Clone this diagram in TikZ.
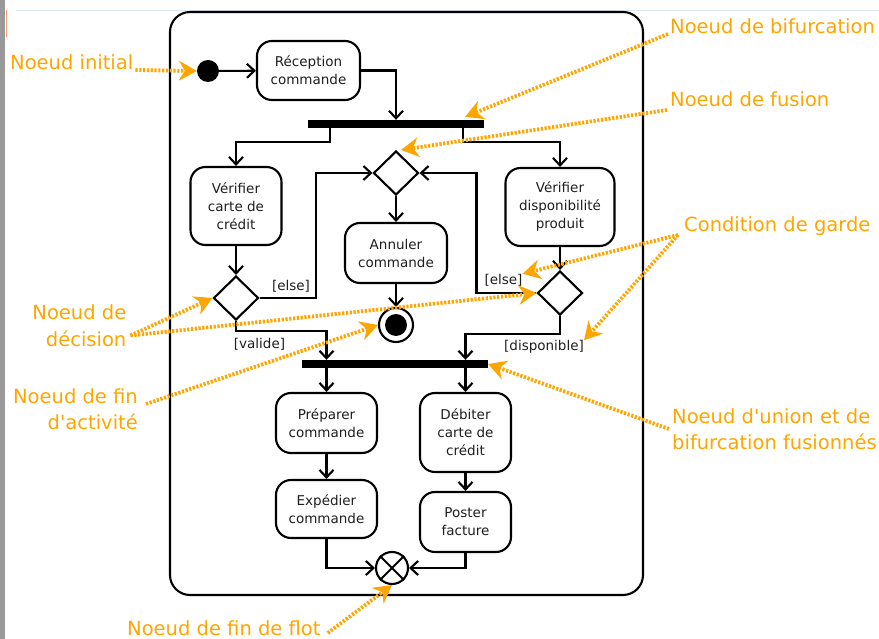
\documentclass[tikz,border=0pt]{standalone}
\usepackage{fontspec}
\setmainfont{DejaVu Sans}[Ligatures=TeXOff]
\usetikzlibrary{arrows.meta,shapes.geometric,calc}
\definecolor{anncol}{RGB}{255,165,0}
\definecolor{txtcol}{RGB}{30,30,30}
\definecolor{stripcol}{RGB}{153,153,153}
\definecolor{toplinecol}{RGB}{220,230,240}
\definecolor{markcol}{RGB}{240,160,120}
\newcommand{\boxfont}{\fontsize{13.5}{18}\selectfont}
\newcommand{\annfont}{\fontsize{19.5}{26.5}\selectfont}
\tikzset{
  actbox/.style={draw, line width=2.1pt, rounded corners=15pt, align=center,
    font=\boxfont, text=txtcol, inner sep=0pt},
  bar/.style={fill=black, inner sep=0pt, minimum height=8pt},
  decision/.style={diamond, draw, line width=2.1pt, inner sep=0pt,
    minimum width=45pt, minimum height=44pt},
  flow/.style={line width=2.1pt, -{Straight Barb[length=7.5pt,width=14pt]}},
  guard/.style={font=\boxfont, text=txtcol, inner sep=0pt},
  note/.style={draw=anncol, line width=3.8pt, dash pattern=on 2.2pt off 1.6pt,
    -{Stealth[length=18pt,width=20pt,inset=6pt,line width=0pt,fill=anncol]}},
  notetext/.style={text=anncol, font=\annfont, inner sep=0pt},
}
\begin{document}
\begin{tikzpicture}[x=1pt,y=-1pt]
\useasboundingbox (0,0) rectangle (879,639);
% window decorations
\fill[stripcol] (0,0) rectangle (5,639);
\draw[toplinecol, line width=1pt] (16,10.5) -- (879,10.5);
\draw[markcol, line width=1.5pt] (6.5,10) -- (6.5,37);
% frame
\draw[line width=2.1pt, rounded corners=20pt] (170,12) rectangle (643,595);

% nodes
\node[circle, fill=black, inner sep=0pt, minimum size=22pt] (init) at (208,71) {};
\node[actbox, minimum width=103pt, minimum height=59pt] (rec) at (308.5,70.5) {Réception\\commande};
\node[bar, minimum width=176pt] (fork1) at (396,124) {};
\node[actbox, minimum width=91pt, minimum height=78pt] (vcc) at (236,206) {Vérifier\\carte de\\crédit};
\node[actbox, minimum width=109pt, minimum height=78pt] (vdp) at (560,207) {Vérifier\\disponibilité\\produit};
\node[decision] (merge) at (396,173) {};
\node[actbox, minimum width=102pt, minimum height=60pt] (annul) at (396,253) {Annuler\\commande};
\node[circle, draw, line width=2.1pt, inner sep=0pt, minimum size=34pt] (fin) at (396,325) {};
\fill (fin.center) circle (11);
\node[decision] (dec1) at (236,298) {};
\node[decision] (dec2) at (560,293) {};
\node[bar, minimum width=186pt] (fork2) at (395,364) {};
\node[actbox, minimum width=101pt, minimum height=60pt] (prep) at (326.5,423) {Préparer\\commande};
\node[actbox, minimum width=101pt, minimum height=58pt] (exped) at (326.5,509) {Expédier\\commande};
\node[actbox, minimum width=91pt, minimum height=79pt] (deb) at (465.5,432.5) {Débiter\\carte de\\crédit};
\node[actbox, minimum width=91pt, minimum height=60pt] (post) at (465.5,522) {Poster\\facture};
\node[circle, draw, line width=2.1pt, inner sep=0pt, minimum size=32pt] (ff) at (392,568) {};
\draw[line width=2.1pt] (ff.north west) -- (ff.south east) (ff.north east) -- (ff.south west);

% guard labels
\node[guard] (elseL) at (291,286) {[else]};
\node[guard] (valide) at (259.5,344) {[valide]};
\node[guard] (elseR) at (503.5,280) {[else]};
\node[guard] (disp) at (544,347) {[disponible]};

% flows
\draw[flow] (init) -- (rec);
\draw[flow] (rec.east) -| (fork1.north);
\draw[flow] ([xshift=-66pt]fork1.south) -- ++(0,14) -| (vcc.north);
\draw[flow] ([xshift=67pt]fork1.south) -- ++(0,14) -| (vdp.north);
\draw[flow] (merge.south) -- (annul.north);
\draw[flow] (annul.south) -- (fin.north);
\draw[flow] (vcc.south) -- (dec1.north);
\draw[flow] (vdp.south) -- (dec2.north);
\draw[flow] (dec1.east) -- ++(56,0) |- (merge.west);
\draw[flow] (dec2.west) -- ++(-60,0) |- (merge.east);
\draw[flow] (dec1.south) -- ++(0,10) -| (fork2.north -| prep.north);
\draw[flow] (dec2.south) -- ++(0,18) -| (fork2.north -| deb.north);
\draw[flow] (fork2.south -| prep.north) -- (prep.north);
\draw[flow] (fork2.south -| deb.north) -- (deb.north);
\draw[flow] (prep.south) -- (exped.north);
\draw[flow] (deb.south) -- (post.north);
\draw[flow] (exped.south) |- (ff.west);
\draw[flow] (post.south) |- (ff.east);

% annotation texts
\node[notetext, anchor=base west] (tInit) at (10,70) {Noeud initial};
\node[notetext, anchor=base west] (tBif) at (670,34) {Noeud de bifurcation};
\node[notetext, anchor=base west] (tFus) at (670,107) {Noeud de fusion};
\node[notetext, anchor=base west] (tCond) at (684,232) {Condition de garde};
\node[notetext, anchor=north east, align=right] (tDec) at (126.5,304.5) {Noeud de\\décision};
\node[notetext, anchor=north east, align=right] (tFin) at (138,388) {Noeud de fin\\d'activité};
\node[notetext, anchor=north west, align=left] (tUni) at (672,408) {Noeud d'union et de\\bifurcation fusionnés};
\node[notetext, anchor=base west] (tFlot) at (127,635.5) {Noeud de fin de flot};

% annotation arrows
\draw[note] ([xshift=2pt]tInit.base east) -- (init.west);
\draw[note] ([xshift=-2pt]tBif.base west) -- ([xshift=-19pt,yshift=3pt]fork1.north east);
\draw[note] ([xshift=-3pt,yshift=-3pt]tFus.base west) -- ([xshift=5pt]merge.north);
\draw[note] ([xshift=-6pt,yshift=-3pt]tCond.base west) -- (elseR.north east);
\draw[note] ([xshift=-6pt,yshift=-3pt]tCond.base west) -- (disp.north east);
\draw[note] ([xshift=4pt,yshift=-10pt]tDec.east) -- (dec1.west);
\draw[note] ([xshift=4pt,yshift=-10pt]tDec.east) -- (dec2.west);
\draw[note] ([xshift=8pt,yshift=5pt]tFin.east) -- (fin.west);
\draw[note] ([xshift=-3pt]tUni.west) -- (fork2.east);
\draw[note] ([xshift=7pt,yshift=2.5pt]tFlot.base east) -- (ff.south);
\end{tikzpicture}
\end{document}
